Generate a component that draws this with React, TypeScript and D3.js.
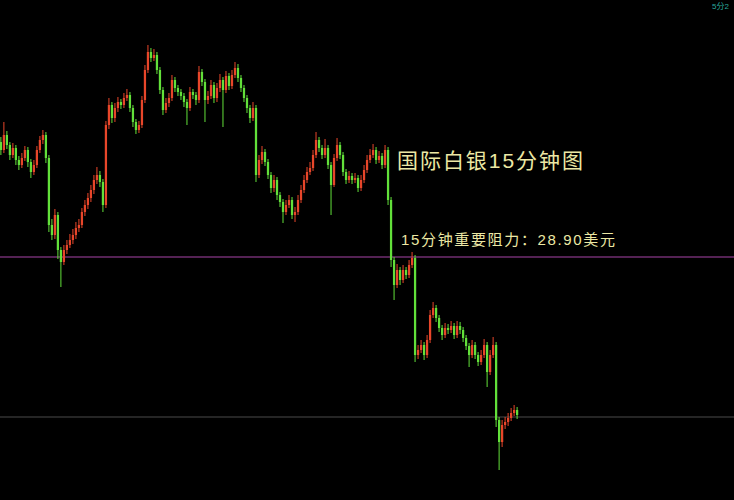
import React from "react";
import * as d3 from "d3";

const firstOpen = 29.13;
const closes = [
  29.114,29.144,29.124,29.104,29.118,29.094,29.084,29.098,29.114,29.090,
  29.070,29.084,29.114,29.134,29.144,29.098,28.964,28.944,28.984,28.914,
  28.890,28.914,28.924,28.934,28.944,28.958,28.964,28.990,29.004,29.018,
  29.034,29.054,29.064,29.050,29.004,29.164,29.204,29.178,29.198,29.210,
  29.204,29.218,29.224,29.198,29.170,29.154,29.164,29.214,29.274,29.310,
  29.298,29.304,29.274,29.234,29.194,29.208,29.218,29.254,29.238,29.230,
  29.222,29.210,29.198,29.230,29.224,29.214,29.270,29.250,29.214,29.222,
  29.244,29.218,29.238,29.254,29.234,29.262,29.242,29.264,29.278,29.258,
  29.238,29.218,29.198,29.178,29.198,29.064,29.094,29.110,29.090,29.064,
  29.038,29.054,29.024,29.010,28.990,29.004,29.014,28.984,28.990,29.014,
  29.034,29.054,29.070,29.078,29.104,29.134,29.118,29.104,29.118,29.084,
  29.044,29.098,29.124,29.104,29.070,29.054,29.062,29.054,29.058,29.038,
  29.054,29.074,29.094,29.104,29.114,29.094,29.102,29.084,29.114,29.014,
  28.894,28.844,28.874,28.854,28.874,28.864,28.884,28.898,28.704,28.714,
  28.724,28.704,28.734,28.784,28.798,28.778,28.758,28.744,28.758,28.754,
  28.762,28.744,28.762,28.754,28.738,28.722,28.704,28.724,28.704,28.690,
  28.704,28.724,28.670,28.704,28.724,28.574,28.530,28.564,28.570,28.578,
  28.588,28.594,28.584,
];
const highs = [
  29.140,29.170,29.152,29.130,29.128,29.124,29.102,29.108,29.122,29.120,
  29.096,29.094,29.122,29.142,29.154,29.150,29.104,28.976,28.996,28.990,
  28.920,28.924,28.934,28.946,28.956,28.970,28.976,28.998,29.014,29.028,
  29.044,29.064,29.080,29.072,29.056,29.172,29.218,29.210,29.208,29.220,
  29.216,29.228,29.236,29.230,29.204,29.176,29.172,29.222,29.284,29.324,
  29.318,29.316,29.310,29.280,29.240,29.218,29.228,29.264,29.260,29.244,
  29.236,29.228,29.216,29.240,29.236,29.230,29.282,29.276,29.256,29.232,
  29.254,29.250,29.248,29.266,29.260,29.272,29.268,29.274,29.290,29.286,
  29.264,29.244,29.224,29.204,29.210,29.204,29.104,29.122,29.116,29.096,
  29.070,29.064,29.060,29.030,29.016,29.014,29.024,29.020,29.000,29.024,
  29.044,29.064,29.080,29.090,29.114,29.150,29.140,29.124,29.136,29.124,
  29.090,29.106,29.138,29.130,29.110,29.076,29.072,29.068,29.068,29.064,
  29.064,29.084,29.104,29.116,29.126,29.120,29.112,29.108,29.124,29.120,
  29.020,28.900,28.886,28.880,28.884,28.880,28.894,28.910,28.904,28.724,
  28.734,28.730,28.744,28.794,28.810,28.804,28.784,28.764,28.768,28.766,
  28.772,28.768,28.772,28.770,28.760,28.744,28.728,28.734,28.730,28.710,
  28.714,28.736,28.730,28.714,28.740,28.730,28.580,28.574,28.580,28.588,
  28.598,28.604,28.600,
];
const lows = [
  29.104,29.108,29.116,29.094,29.098,29.084,29.074,29.078,29.092,29.080,
  29.058,29.064,29.078,29.108,29.126,29.088,28.950,28.934,28.936,28.896,
  28.840,28.884,28.906,28.918,28.926,28.936,28.950,28.958,28.982,28.996,
  29.010,29.026,29.046,29.040,28.990,28.998,29.156,29.168,29.170,29.190,
  29.196,29.198,29.212,29.190,29.160,29.146,29.148,29.158,29.208,29.268,
  29.290,29.292,29.266,29.226,29.184,29.188,29.200,29.212,29.230,29.222,
  29.214,29.200,29.164,29.192,29.216,29.204,29.208,29.242,29.170,29.206,
  29.216,29.208,29.210,29.230,29.160,29.228,29.234,29.236,29.258,29.250,
  29.230,29.210,29.188,29.168,29.172,29.050,29.058,29.086,29.082,29.056,
  29.028,29.030,29.014,29.000,28.968,28.984,28.998,28.976,28.970,28.984,
  29.008,29.028,29.048,29.064,29.072,29.098,29.110,29.096,29.098,29.076,
  28.984,29.040,29.092,29.096,29.062,29.046,29.048,29.046,29.048,29.030,
  29.032,29.048,29.068,29.088,29.098,29.086,29.088,29.076,29.078,29.004,
  28.880,28.814,28.838,28.844,28.848,28.856,28.858,28.878,28.690,28.696,
  28.708,28.694,28.698,28.728,28.778,28.770,28.750,28.734,28.738,28.746,
  28.748,28.736,28.738,28.746,28.730,28.714,28.680,28.698,28.696,28.682,
  28.684,28.698,28.640,28.664,28.698,28.560,28.474,28.520,28.556,28.562,
  28.572,28.582,28.576,
];
const resistanceLevel = 28.9;
const supportLevel = 28.58;
const titleText = "国际白银15分钟图";
const noteText = "15分钟重要阻力：28.90美元";
const cornerText = "5分2";

const W = 734;
const H = 500;

export default function App() {
  const candles = closes.map((c, i) => ({
    i,
    open: i === 0 ? firstOpen : closes[i - 1],
    close: c,
    high: highs[i],
    low: lows[i],
  }));
  const x = d3
    .scaleBand<number>()
    .domain(candles.map((d) => d.i))
    .range([-1, 519])
    .padding(0.25);
  const y = d3.scaleLinear().domain([28.25, 29.5]).range([582, -43]);
  const up = "#e8462a";
  const down = "#62e03a";
  const font = "'Liberation Sans', 'Noto Sans CJK SC', sans-serif";

  return (
    <svg
      width={W}
      height={H}
      style={{ position: "fixed", left: 0, top: 0, background: "#000" }}
    >
      <rect x={0} y={0} width={W} height={H} fill="#000" />
      <line x1={0} x2={W} y1={y(resistanceLevel)} y2={y(resistanceLevel)} stroke="#a844a8" strokeWidth={1} />
      <line x1={0} x2={W} y1={y(supportLevel)} y2={y(supportLevel)} stroke="#4a4a4a" strokeWidth={1} />
      <g>
        {candles.map((d) => {
          const col = d.close > d.open ? up : down;
          const cx = (x(d.i) as number) + x.bandwidth() / 2;
          const top = y(Math.max(d.open, d.close));
          const bot = y(Math.min(d.open, d.close));
          return (
            <g key={d.i}>
              <line x1={cx} x2={cx} y1={y(d.high)} y2={y(d.low)} stroke={col} strokeWidth={1} />
              <rect
                x={x(d.i) as number}
                y={top}
                width={x.bandwidth()}
                height={Math.max(1, bot - top)}
                fill={col}
              />
            </g>
          );
        })}
      </g>
      <text
        x={397}
        y={168}
        fill="#ece8a4"
        fontSize={21}
        fontFamily={font}
        textLength={186}
        lengthAdjust="spacing"
      >
        {titleText}
      </text>
      <text
        x={401}
        y={245}
        fill="#ece8a4"
        fontSize={15}
        fontFamily={font}
        textLength={214}
        lengthAdjust="spacing"
      >
        {noteText}
      </text>
      <text x={712} y={9} fill="#2aa89e" fontSize={8} fontFamily={font}>
        {cornerText}
      </text>
    </svg>
  );
}
